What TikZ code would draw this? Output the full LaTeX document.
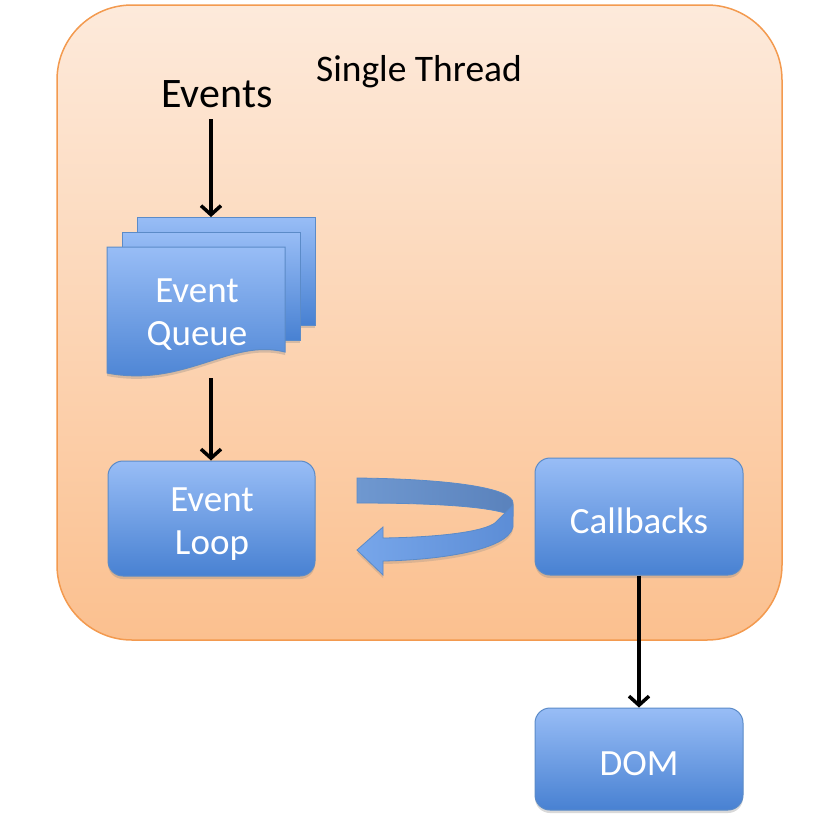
\documentclass[tikz,border=0pt]{standalone}
\usepackage{fontspec}
\setmainfont{Carlito}
\usetikzlibrary{arrows.meta,shadows}
\definecolor{orbord}{HTML}{F39A4F}
\definecolor{ortop}{HTML}{FDEADB}
\definecolor{orbot}{HTML}{FBC08F}
\definecolor{bltop}{HTML}{98BDF6}
\definecolor{blbot}{HTML}{4881D2}
\definecolor{blbord}{HTML}{5B8BC8}
\definecolor{bandtop}{HTML}{6F98D0}
\definecolor{bandtopr}{HTML}{5A82BC}
\definecolor{bandlow}{HTML}{77A6EA}
\definecolor{bandlowr}{HTML}{5C8DD6}
\tikzset{
  bluebox/.style={draw=blbord, line width=1pt, rounded corners=15pt,
    top color=bltop, bottom color=blbot, text=white,
    font=\fontsize{37}{44}\selectfont, align=center,
    drop shadow={opacity=0.3, shadow xshift=0pt, shadow yshift=-3pt}},
  pagebox/.style={draw=blbord, line width=1pt, top color=bltop, bottom color=blbot,
    drop shadow={opacity=0.3, shadow xshift=0pt, shadow yshift=-3pt}},
  flow/.style={line width=3.5pt, -{Straight Barb[length=9pt,width=20pt,line width=3.5pt]}},
  whitetext/.style={text=white, font=\fontsize{37}{43}\selectfont, align=center},
}
\begin{document}
\begin{tikzpicture}[x=1pt,y=-1pt]
\useasboundingbox (0,0) rectangle (840,822);
% outer thread box
\draw[draw=orbord, line width=1.5pt, rounded corners=75pt, top color=ortop, bottom color=orbot]
  (57,5) rectangle (782,640);
\node[font=\fontsize{37.5}{44}\selectfont] (title) at (419,72) {Single Thread};
\node[font=\fontsize{42}{48}\selectfont] (events) at (217,94) {Events};
% event queue (stacked documents)
\path[pagebox] (137,217) rectangle (315,325);
\path[pagebox] (122,232) rectangle (300,340);
\path[pagebox] (107,247) -- (285,247) -- (285,352)
  .. controls (230,338) and (185,388) .. (107,373) -- cycle;
\coordinate (qtop) at (211,217);
\coordinate (qbot) at (211,378);
\node[whitetext] (queue) at (197,315) {Event\\Queue};
% boxes
\node[bluebox, minimum width=207pt, minimum height=115pt] (loop) at (211.5,518.5) {};
\node[whitetext] (looptext) at (212,524) {Event\\Loop};
\node[bluebox, minimum width=208pt, minimum height=117pt] (cb) at (639,516.5) {};
\node[whitetext] (cbtext) at (639,521) {Callbacks};
\node[bluebox, minimum width=208pt, minimum height=102pt] (dom) at (639,759) {};
\node[whitetext] (domtext) at (639,764) {DOM};
% arrows
\draw[flow] ([yshift=-8pt]events.south -| qtop) -- (qtop);
\draw[flow] (qbot) -- (qbot |- loop.north);
\draw[flow] (cb.south) -- (dom.north);
% curved return arrow
\path[draw=blbord, line width=0.8pt, left color=bandtop, right color=bandtopr]
  (357,478) .. controls (450,479) and (513,488) .. (513,503) -- (513,516)
  .. controls (495,507) and (440,503) .. (357,503) -- cycle;
\path[draw=blbord, line width=0.8pt, left color=bandlow, right color=bandlowr,
      drop shadow={opacity=0.25, shadow xshift=0pt, shadow yshift=-3pt}]
  (513,505) -- (513,527) .. controls (508,550) and (440,560) .. (383,561)
  -- (383,575) -- (357,550) -- (383,527) -- (383,538)
  .. controls (450,537) and (490,530) .. (497,521) -- cycle;
\end{tikzpicture}
\end{document}
